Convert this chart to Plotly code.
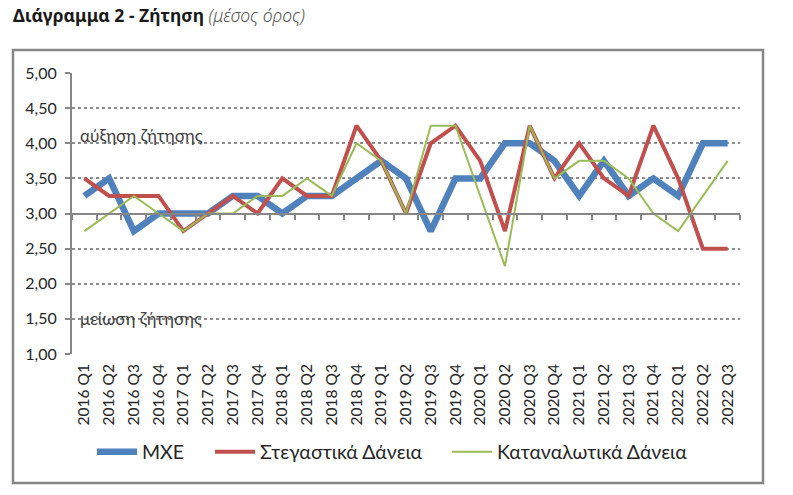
import plotly.graph_objects as go

quarters = ["2016 Q1", "2016 Q2", "2016 Q3", "2016 Q4",
            "2017 Q1", "2017 Q2", "2017 Q3", "2017 Q4",
            "2018 Q1", "2018 Q2", "2018 Q3", "2018 Q4",
            "2019 Q1", "2019 Q2", "2019 Q3", "2019 Q4",
            "2020 Q1", "2020 Q2", "2020 Q3", "2020 Q4",
            "2021 Q1", "2021 Q2", "2021 Q3", "2021 Q4",
            "2022 Q1", "2022 Q2", "2022 Q3"]

mxe = [3.25, 3.50, 2.75, 3.00, 3.00, 3.00, 3.25, 3.25, 3.00, 3.25, 3.25, 3.50,
       3.75, 3.50, 2.75, 3.50, 3.50, 4.00, 4.00, 3.75, 3.25, 3.75, 3.25, 3.50,
       3.25, 4.00, 4.00]
stegastika = [3.50, 3.25, 3.25, 3.25, 2.75, 3.00, 3.25, 3.00, 3.50, 3.25, 3.25, 4.25,
              3.75, 3.00, 4.00, 4.25, 3.75, 2.75, 4.25, 3.50, 4.00, 3.50, 3.25, 4.25,
              3.50, 2.50, 2.50]
katanalotika = [2.75, 3.00, 3.25, 3.00, 2.75, 3.00, 3.00, 3.25, 3.25, 3.50, 3.25, 4.00,
                3.75, 3.00, 4.25, 4.25, 3.25, 2.25, 4.25, 3.50, 3.75, 3.75, 3.50, 3.00,
                2.75, 3.25, 3.75]

W, H = 793, 495
L, R, T, B = 72, 740, 73, 354
pw, ph = R - L, B - T

def px(x):
    return (x - L) / pw

def py(y):
    return (B - y) / ph

series = [("ΜΧΕ", mxe, "#4f81bd", 6.5, "legend", 92),
          ("Στεγαστικά Δάνεια", stegastika, "#c0504d", 4, "legend2", 210),
          ("Καταναλωτικά Δάνεια", katanalotika, "#9bbb59", 2, "legend3", 447)]

fig = go.Figure()
for name, vals, col, w, leg, lx in series:
    fig.add_trace(go.Scatter(x=quarters, y=vals, name=name, mode="lines",
                             line=dict(color=col, width=w), legend=leg))

# invisible trace so the middle axis (crossing at 3,00) gets drawn
fig.add_trace(go.Scatter(x=quarters, y=mxe, xaxis="x2", mode="lines",
                         line=dict(width=0), opacity=0, showlegend=False,
                         hoverinfo="skip"))

legfont = dict(family="Lato", size=19.5, color="#262626")
for name, vals, col, w, leg, lx in series:
    fig.update_layout({leg: dict(x=px(lx), y=py(452), xanchor="left", yanchor="middle",
                                 font=legfont, itemwidth=40,
                                 bgcolor="rgba(0,0,0,0)")})

fig.update_layout(
    width=W, height=H,
    margin=dict(l=L, r=W - R, t=T, b=H - B),
    paper_bgcolor="white", plot_bgcolor="white",
    separators=", ",
    font=dict(family="Lato", color="#404040"),
    title=dict(
        text="<b>Διάγραμμα 2 - Ζήτηση</b> <i><span style='color:#555555;font-weight:300'>(μέσος όρος)</span></i>",
        xref="container", yref="container", x=13 / W, y=1 - 16 / H,
        xanchor="left", yanchor="middle",
        font=dict(family="Noto Sans", size=17.5, color="#1a1a1a")),
    showlegend=True,
    xaxis=dict(type="category", range=[-0.5, len(quarters) - 0.5],
               showline=False, showgrid=False, ticks="", ticklabelstandoff=6,
               tickangle=-90, tickfont=dict(family="Lato", size=15.5, color="#262626")),
    xaxis2=dict(type="category", overlaying="x", anchor="free", position=0.5,
                range=[-0.5, len(quarters) - 0.5], matches="x",
                showline=True, linecolor="#868686", linewidth=2,
                ticks="outside", tickson="boundaries", ticklen=5, tickcolor="#868686",
                tickwidth=1.5, showticklabels=False, showgrid=False, side="bottom"),
    yaxis=dict(range=[1, 5], dtick=0.5, tickformat=".2f",
               showline=True, linecolor="#868686", linewidth=2,
               ticks="outside", ticklen=5, tickcolor="#868686", tickwidth=1.5,
               ticklabelstandoff=5,
               showgrid=True, gridcolor="#8c8c8c", griddash="dot", gridwidth=1.5,
               zeroline=False,
               tickfont=dict(family="Lato", size=16, color="#262626")),
    annotations=[
        dict(text="αύξηση ζήτησης", xref="paper", yref="y", x=px(78), y=4.0,
             xanchor="left", yanchor="middle", yshift=8, showarrow=False,
             font=dict(family="Lato", size=17, color="#404040")),
        dict(text="μείωση ζήτησης", xref="paper", yref="y", x=px(78), y=1.5,
             xanchor="left", yanchor="middle", showarrow=False,
             font=dict(family="Lato", size=17, color="#404040")),
    ],
    shapes=[dict(type="rect", xref="paper", yref="paper",
                 x0=px(13), x1=px(763), y0=py(483), y1=py(50),
                 line=dict(color="#868686", width=2.5), layer="below")],
)

# drop the default 8px page margin so the figure sits at the window corner
fig.write_html("out.html", config={"displayModeBar": False},
               post_script="document.body.style.margin='0';")
